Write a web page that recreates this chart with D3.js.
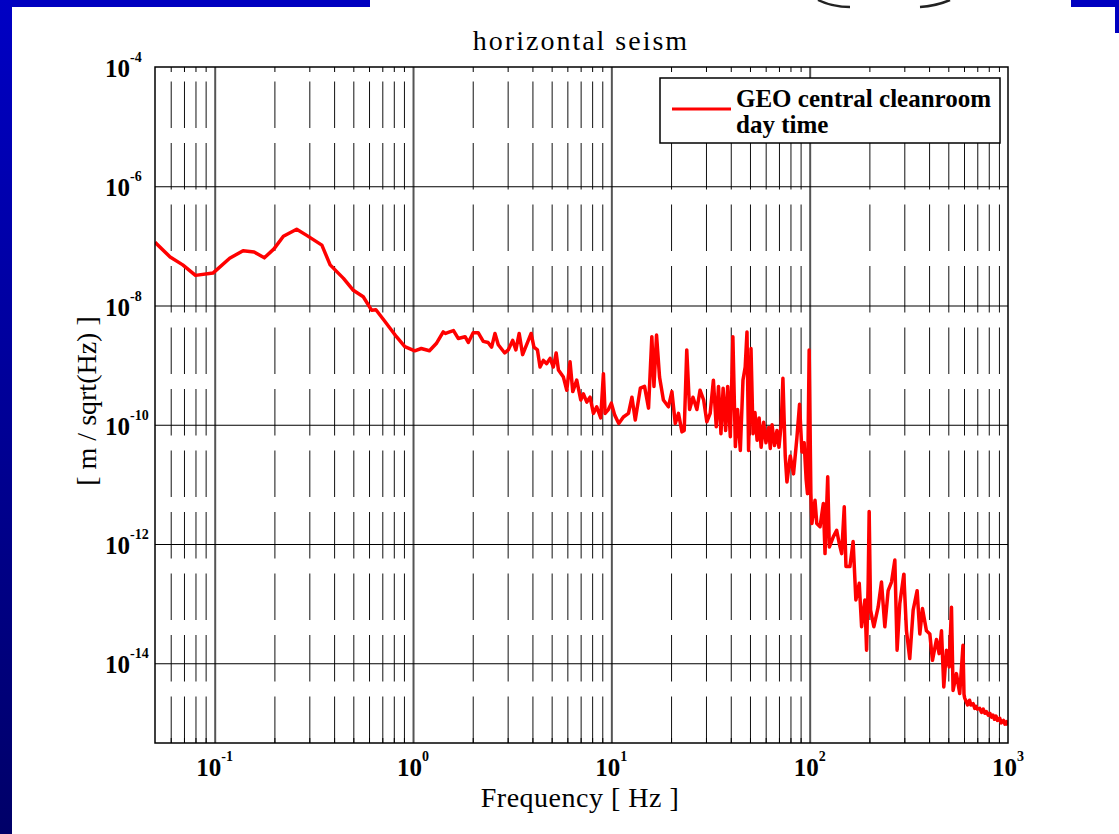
<!DOCTYPE html>
<html>
<head>
<meta charset="utf-8">
<script src="https://cdn.jsdelivr.net/npm/d3@7"></script>
<style>
  body { margin: 0; background: #fff; }
  svg { display: block; }
  text { font-family: "Liberation Serif", "Times New Roman", serif; fill: #000; }
</style>
</head>
<body>
<script>
// horizontal seism spectrum
var freqHz = [
  0.050, 0.0596, 0.069, 0.080, 0.098, 0.119, 0.139, 0.158, 0.178, 0.199,
  0.222, 0.259, 0.291, 0.347, 0.382, 0.446, 0.50, 0.561, 0.619, 0.65,
  0.722, 0.825, 0.909, 1.02, 1.10, 1.21, 1.31, 1.42, 1.46, 1.53,
  1.60, 1.69, 1.83, 1.90, 2.01, 2.13, 2.26, 2.39, 2.49, 2.59,
  2.69, 2.90, 3.02, 3.18, 3.30, 3.43, 3.57, 3.74, 3.94, 4.07,
  4.24, 4.37, 4.54, 4.72, 4.91, 5.10, 5.27, 5.41, 5.73, 5.96,
  6.19, 6.39, 6.69, 7.01, 7.23, 7.52, 7.81, 8.12, 8.44, 8.84,
  9.12, 9.3, 9.66, 10.0, 10.4, 10.9, 11.5, 12.2, 12.7, 13.2,
  14.0, 14.7, 15.4, 16.0, 16.4, 16.9, 17.5, 18.3, 19.4, 20.2,
  21.0, 21.8, 22.7, 23.3, 24.0, 24.8, 25.8, 27.0, 28.0, 29.2,
  30.3, 31.5, 32.7, 33.8, 34.7, 35.7, 36.6, 37.7, 38.6, 39.8,
  41.0, 42.2, 43.3, 44.7, 46.1, 47.3, 48.3, 49.2, 50.6, 51.8,
  53.0, 54.3, 55.6, 56.9, 58.6, 60.2, 62.1, 63.3, 64.6, 66.5,
  68.4, 70.0, 71.9, 73.3, 75.3, 76.8, 79.8, 82.9, 86.2, 88.9,
  91.4, 93.8, 96.0, 97.5, 99.4, 101.4, 102.6, 106.4, 108.6, 112.8,
  117.2, 119.5, 123.3, 125.6, 131.5, 136.8, 141, 145, 149.4, 152.4,
  159.6, 165.6, 171, 177.8, 182.7, 189.8, 193.6, 197.2, 199.5, 202.8,
  210.7, 221.4, 230.2, 239.3, 248.7, 258.6, 268.8, 276, 284.7, 298.3,
  307.6, 319.6, 332.5, 348.2, 359.3, 370.4, 388, 403.5, 416, 435.8,
  449.5, 462, 474.5, 489.5, 505, 518.8, 528.5, 549.5, 571, 593,
  600, 605, 617, 625, 640, 650, 667, 680, 690, 700,
  720, 735, 750, 765, 778, 795, 810, 825, 840, 855,
  870, 885, 908, 925, 950, 965, 985, 1000
];
var seismAsd = [
  1.15e-7, 6.5e-8, 4.8e-8, 3.2e-8, 3.5e-8, 6.2e-8, 8.3e-8, 7.9e-8, 6.3e-8, 8.9e-8,
  1.45e-7, 1.9e-7, 1.5e-7, 1.03e-7, 4.8e-8, 2.85e-8, 1.8e-8, 1.4e-8, 8.3e-9, 8.5e-9,
  5.4e-9, 3.0e-9, 2.04e-9, 1.74e-9, 1.9e-9, 1.74e-9, 2.3e-9, 3.6e-9, 3.4e-9, 3.6e-9,
  3.8e-9, 2.8e-9, 3.0e-9, 2.4e-9, 3.5e-9, 3.5e-9, 2.5e-9, 2.4e-9, 2.0e-9, 3.4e-9,
  2.2e-9, 1.6e-9, 1.8e-9, 2.6e-9, 1.8e-9, 3.4e-9, 1.5e-9, 2.2e-9, 3.4e-9, 2.0e-9,
  1.8e-9, 9.3e-10, 1.2e-9, 1.06e-9, 1.3e-9, 9.3e-10, 1.6e-9, 8.3e-10, 6.3e-10, 3.8e-10,
  1.14e-9, 3.6e-10, 5.6e-10, 2.6e-10, 3.3e-10, 2.4e-10, 2.9e-10, 1.55e-10, 2.0e-10, 1.3e-10,
  7.2e-10, 1.55e-10, 1.8e-10, 2.3e-10, 1.45e-10, 1.05e-10, 1.35e-10, 1.55e-10, 2.9e-10, 1.2e-10,
  4.1e-10, 4.4e-10, 1.9e-10, 3.0e-9, 4.4e-10, 3.2e-9, 6.3e-10, 2.6e-10, 2.0e-10, 3.6e-10,
  1.05e-10, 1.55e-10, 7.6e-11, 8.0e-11, 1.8e-9, 1.8e-10, 2.9e-10, 1.8e-10, 3.8e-10, 2.6e-10,
  1.12e-10, 1.55e-10, 5.6e-10, 9.3e-11, 4.4e-10, 7.1e-11, 4.1e-10, 8.0e-11, 4.4e-10, 6.3e-11,
  3.0e-9, 4.3e-11, 1.8e-10, 3.7e-11, 5.6e-10, 9.3e-10, 3.6e-9, 3.7e-11, 1.9e-9, 7.1e-11,
  1.6e-10, 5.5e-11, 1.3e-10, 4.2e-11, 1.1e-10, 5.0e-11, 9.0e-11, 4.0e-11, 1.0e-10, 4.5e-11,
  8.0e-11, 4.2e-11, 1.05e-10, 6.0e-10, 3.0e-11, 1.1e-11, 3.0e-11, 1.5e-11, 6.0e-11, 2.2e-10,
  3.5e-11, 5.0e-11, 1.2e-11, 7.0e-12, 1.8e-9, 7.1e-12, 2.2e-12, 5.4e-12, 2.2e-12, 1.95e-12,
  4.8e-12, 6.9e-13, 1.34e-11, 8.9e-13, 1.32e-12, 1.7e-12, 1.02e-12, 6.9e-13, 4.2e-12, 4.2e-13,
  4.2e-13, 1.1e-12, 1.15e-13, 2.2e-13, 4.1e-14, 1.15e-13, 1.66e-14, 2.2e-13, 3.5e-12, 7.8e-14,
  4.1e-14, 8.7e-14, 2.3e-13, 4.1e-14, 1.65e-13, 2.3e-13, 5.4e-13, 1.66e-14, 1.0e-13, 3.1e-13,
  3.5e-14, 1.2e-14, 7.8e-14, 1.65e-13, 3.1e-14, 8.3e-14, 3.5e-14, 3.1e-14, 1.12e-14, 2.5e-14,
  1.45e-14, 3.5e-14, 4.0e-15, 1.66e-14, 8.7e-15, 8.7e-14, 3.5e-15, 6.7e-15, 3.1e-15, 2.0e-14,
  3.0e-15, 2.6e-15, 2.24e-15, 2.0e-15, 2.4e-15, 2.0e-15, 2.1e-15, 1.75e-15, 1.9e-15, 1.7e-15,
  1.75e-15, 1.5e-15, 1.7e-15, 1.45e-15, 1.55e-15, 1.35e-15, 1.45e-15, 1.25e-15, 1.35e-15, 1.15e-15,
  1.3e-15, 1.1e-15, 1.2e-15, 1.0e-15, 1.1e-15, 0.95e-15, 1.05e-15, 9.1e-16
];

var xTickPowers = [-1, 0, 1, 2, 3];
var yTickPowers = [-4, -6, -8, -10, -12, -14];
var legendLines = ['GEO central cleanroom', 'day time'];

var width = 1119;
var height = 834;
var margin = { left: 155, right: 111, top: 67, bottom: 91 };
var plotW = width - margin.left - margin.right;
var plotH = height - margin.top - margin.bottom;

var svg = d3.select('body').append('svg')
  .attr('width', width)
  .attr('height', height);

// slide decoration
var grad = svg.append('defs').append('linearGradient')
  .attr('id', 'side').attr('x1', 0).attr('y1', 0).attr('x2', 0).attr('y2', 1);
grad.append('stop').attr('offset', '0%').attr('stop-color', '#0000c4');
grad.append('stop').attr('offset', '100%').attr('stop-color', '#000068');
svg.append('rect').attr('x', 0).attr('y', 0).attr('width', 370).attr('height', 7).attr('fill', '#0000c0');
svg.append('rect').attr('x', 0).attr('y', 0).attr('width', 12).attr('height', height).attr('fill', 'url(#side)');
svg.append('rect').attr('x', 1071).attr('y', 0).attr('width', 48).attr('height', 7).attr('fill', '#0000c0');
svg.append('rect').attr('x', 1115).attr('y', 0).attr('width', 4).attr('height', 33).attr('fill', '#0000c0');
svg.append('path').attr('d', 'M818,0 Q832,7 850,7').attr('fill', 'none').attr('stroke', '#222').attr('stroke-width', 2.5);
svg.append('path').attr('d', 'M920,7 Q936,6 950,0').attr('fill', 'none').attr('stroke', '#222').attr('stroke-width', 2.5);

var x = d3.scaleLog()
  .domain([0.05, 1000])
  .range([margin.left, margin.left + plotW]);

var y = d3.scaleLog()
  .domain([4.6e-16, 1e-4])
  .range([margin.top + plotH, margin.top]);

var minorX = [];
[-2, -1, 0, 1, 2].forEach(function(p) {
  for (var k = 2; k <= 9; k++) {
    var f = k * Math.pow(10, p);
    if (f > 0.05 && f < 1000) minorX.push(f);
  }
});
var majorX = xTickPowers.map(function(p) { return Math.pow(10, p); });
var majorY = yTickPowers.map(function(p) { return Math.pow(10, p); });

svg.append('rect')
  .attr('x', margin.left).attr('y', margin.top)
  .attr('width', plotW).attr('height', plotH)
  .attr('fill', '#fff');

// dashed minor grid
svg.append('g')
  .attr('class', 'minor grid')
  .attr('transform', 'translate(0,' + (margin.top + plotH) + ')')
  .call(d3.axisBottom(x).tickValues(minorX).tickSize(-plotH).tickFormat(''))
  .call(function(g) { g.select('.domain').remove(); })
  .selectAll('line')
  .attr('stroke', '#111')
  .attr('stroke-width', 1)
  .attr('stroke-dasharray', '46.5,15');

// decade grid
svg.append('g')
  .attr('class', 'major grid')
  .attr('transform', 'translate(0,' + (margin.top + plotH) + ')')
  .call(d3.axisBottom(x).tickValues(majorX.slice(0, 4)).tickSize(-plotH).tickFormat(''))
  .call(function(g) { g.select('.domain').remove(); })
  .selectAll('line')
  .attr('stroke', '#555')
  .attr('stroke-width', 2);

svg.append('g')
  .attr('class', 'y grid')
  .attr('transform', 'translate(' + margin.left + ',0)')
  .call(d3.axisLeft(y).tickValues(majorY.slice(1)).tickSize(-plotW).tickFormat(''))
  .call(function(g) { g.select('.domain').remove(); })
  .selectAll('line')
  .attr('stroke', '#000')
  .attr('stroke-width', 1.2);

// small ticks top and bottom
svg.append('g')
  .attr('transform', 'translate(0,' + (margin.top + plotH) + ')')
  .call(d3.axisBottom(x).tickValues(minorX).tickSize(-5).tickFormat(''))
  .call(function(g) { g.select('.domain').remove(); })
  .selectAll('line').attr('stroke', '#000');
svg.append('g')
  .attr('transform', 'translate(0,' + margin.top + ')')
  .call(d3.axisTop(x).tickValues(minorX).tickSize(-5).tickFormat(''))
  .call(function(g) { g.select('.domain').remove(); })
  .selectAll('line').attr('stroke', '#000');

// data
svg.append('clipPath').attr('id', 'plotclip')
  .append('rect')
  .attr('x', margin.left).attr('y', margin.top)
  .attr('width', plotW).attr('height', plotH);

var line = d3.line()
  .x(function(d, i) { return x(freqHz[i]); })
  .y(function(d) { return y(d); });

svg.append('path')
  .datum(seismAsd)
  .attr('clip-path', 'url(#plotclip)')
  .attr('fill', 'none')
  .attr('stroke', '#ff0000')
  .attr('stroke-width', 3.5)
  .attr('stroke-linejoin', 'round')
  .attr('d', line);

// box
svg.append('rect')
  .attr('x', margin.left).attr('y', margin.top)
  .attr('width', plotW).attr('height', plotH)
  .attr('fill', 'none')
  .attr('stroke', '#000')
  .attr('stroke-width', 1.5);

// tick labels
var xLab = svg.append('g').selectAll('text')
  .data(xTickPowers)
  .enter().append('text')
  .attr('x', function(p) { return x(Math.pow(10, p)); })
  .attr('y', 776)
  .attr('text-anchor', 'middle')
  .attr('font-weight', 'bold')
  .attr('font-size', 25);
xLab.append('tspan').text('10');
xLab.append('tspan').attr('dy', -15).attr('font-size', 14).text(function(p) { return p; });

var yLab = svg.append('g').selectAll('text')
  .data(yTickPowers)
  .enter().append('text')
  .attr('x', 105)
  .attr('y', function(p) { return y(Math.pow(10, p)) + 10; })
  .attr('font-weight', 'bold')
  .attr('font-size', 25);
yLab.append('tspan').text('10');
yLab.append('tspan').attr('dy', -15).attr('font-size', 14).text(function(p) { return p; });

// titles
svg.append('text')
  .attr('x', 581).attr('y', 50)
  .attr('text-anchor', 'middle')
  .attr('font-size', 28)
  .attr('letter-spacing', 2)
  .text('horizontal seism');

svg.append('text')
  .attr('x', 580).attr('y', 807)
  .attr('text-anchor', 'middle')
  .attr('font-size', 28)
  .attr('letter-spacing', 0.5)
  .text('Frequency [ Hz ]');

svg.append('text')
  .attr('transform', 'translate(96,401) rotate(-90)')
  .attr('text-anchor', 'middle')
  .attr('font-size', 28)
  .text('[ m / sqrt(Hz) ]');

// legend
var legend = svg.append('g').attr('transform', 'translate(660,78)');
legend.append('rect')
  .attr('width', 340).attr('height', 65)
  .attr('fill', '#fff').attr('stroke', '#000').attr('stroke-width', 1.5);
legend.append('line')
  .attr('x1', 12).attr('x2', 71).attr('y1', 31).attr('y2', 31)
  .attr('stroke', '#ff0000').attr('stroke-width', 3);
legend.selectAll('text.leg')
  .data(legendLines)
  .enter().append('text')
  .attr('class', 'leg')
  .attr('x', 76)
  .attr('y', function(d, i) { return 29 + i * 26; })
  .attr('font-weight', 'bold')
  .attr('font-size', 25)
  .text(function(d) { return d; });
</script>
</body>
</html>
